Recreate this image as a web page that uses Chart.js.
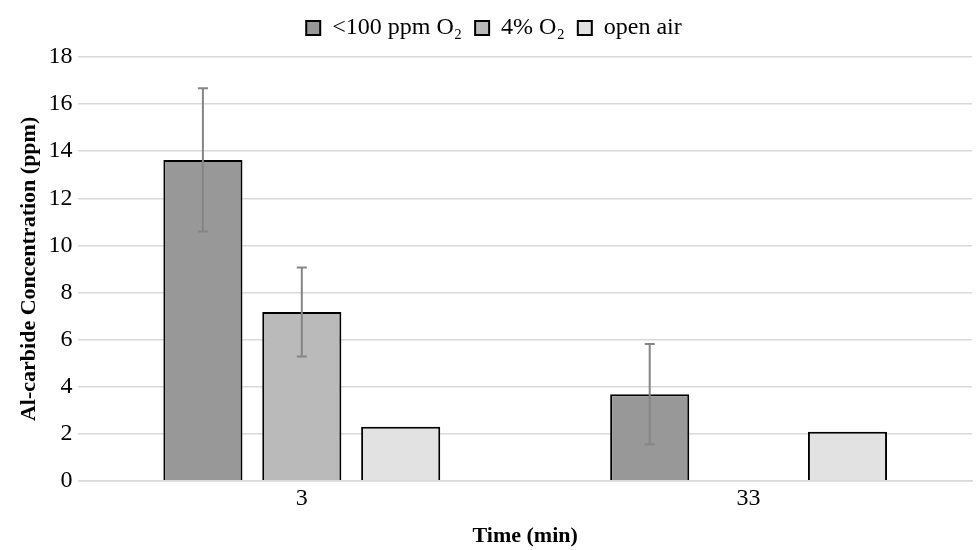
<!DOCTYPE html>
<html>
<head>
<meta charset="utf-8">
<script src="https://cdn.jsdelivr.net/npm/chart.js@4"></script>
<style>
  html, body { margin:0; padding:0; background:#fff; }
  #wrap { width:979px; height:550px; }
</style>
</head>
<body>
<div id="wrap"><canvas id="chart" width="979" height="550"></canvas></div>
<script>
// data
const categories = ["3", "33"];
const seriesNames = ["<100 ppm O\u2082", "4% O\u2082", "open air"];
const lowO2 = [13.63, 3.68];
const fourPct = [7.17, null];
const openAir = [2.30, 2.08];
const lowO2Err = [3.04, 2.13];
const fourPctErr = [1.89, null];
const openAirErr = [null, null];
const yTicks = [0, 2, 4, 6, 8, 10, 12, 14, 16, 18];

const colors = ["#989898", "#bababa", "#e2e2e2"];
const FONT = "'Liberation Serif', 'Times New Roman', serif";

// error bars drawn through the y scale
const errorBars = {
  id: "errorBars",
  afterDatasetsDraw(chart){
    const ctx = chart.ctx;
    const y = chart.scales.y;
    ctx.save();
    ctx.strokeStyle = "#858585";
    ctx.lineWidth = 2;
    chart.data.datasets.forEach((ds, di) => {
      const meta = chart.getDatasetMeta(di);
      meta.data.forEach((bar, i) => {
        const v = ds.data[i], e = ds.err[i];
        if (v == null || e == null) return;
        const x = bar.x;
        const top = y.getPixelForValue(v + e);
        const bot = y.getPixelForValue(v - e);
        ctx.beginPath();
        ctx.moveTo(x, top); ctx.lineTo(x, bot);
        ctx.moveTo(x - 5, top); ctx.lineTo(x + 5, top);
        ctx.moveTo(x - 5, bot); ctx.lineTo(x + 5, bot);
        ctx.stroke();
      });
    });
    ctx.restore();
  }
};

// a bit more room under the legend
const legendGap = {
  id: "legendGap",
  beforeInit(chart){
    const fit = chart.legend.fit;
    chart.legend.fit = function(){
      fit.call(this);
      this.height += 7;
    };
  }
};

const datasets = [lowO2, fourPct, openAir].map((d, i) => ({
  label: seriesNames[i],
  data: d,
  err: [lowO2Err, fourPctErr, openAirErr][i],
  backgroundColor: colors[i],
  borderColor: "#000",
  borderWidth: 2,
  categoryPercentage: 0.664,
  barPercentage: 0.8
}));

new Chart(document.getElementById("chart"), {
  type: "bar",
  data: { labels: categories, datasets: datasets },
  plugins: [errorBars, legendGap],
  options: {
    responsive: false,
    animation: false,
    layout: { padding: { left: 16, right: 7, top: 3, bottom: 0 } },
    plugins: {
      legend: {
        position: "top",
        labels: {
          font: { family: FONT, size: 24 },
          color: "#000",
          boxWidth: 14,
          boxHeight: 14,
          padding: 13
        }
      },
      tooltip: { enabled: false }
    },
    scales: {
      x: {
        grid: { display: false },
        border: { color: "#d9d9d9", width: 1.5 },
        ticks: { font: { family: FONT, size: 24 }, color: "#000", padding: -4 },
        title: {
          display: true, text: "Time (min)",
          font: { family: FONT, size: 22, weight: "bold" }, color: "#000",
          padding: { top: 14, bottom: 0 }
        }
      },
      y: {
        min: 0, max: 18,
        afterBuildTicks: axis => { axis.ticks = yTicks.map(v => ({ value: v })); },
        grid: { color: "#d9d9d9", lineWidth: 1.5, drawTicks: false },
        border: { display: false },
        ticks: { font: { family: FONT, size: 24 }, color: "#000", padding: 6 },
        title: {
          display: true, text: "Al-carbide Concentration (ppm)",
          font: { family: FONT, size: 22, weight: "bold" }, color: "#000",
          padding: { top: 0, bottom: 0 }
        }
      }
    }
  }
});
</script>
</body>
</html>
